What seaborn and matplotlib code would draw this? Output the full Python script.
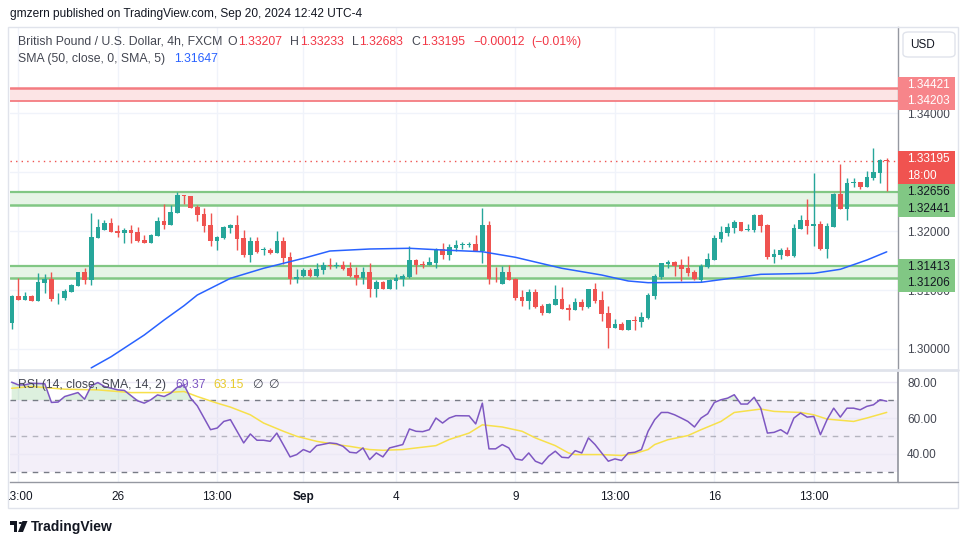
import numpy as np
import matplotlib
matplotlib.use("Agg")
import matplotlib.pyplot as plt
import matplotlib.transforms as mtransforms
from matplotlib.patches import Rectangle, FancyBboxPatch, Polygon, Circle
from matplotlib.lines import Line2D
import seaborn as sns

# GBPUSD 4h candles
opens = [1.30446, 1.30898, 1.30836, 1.30898, 1.30819, 1.31124, 1.31186, 1.30876, 1.30870, 1.30972,
         1.31073, 1.31305, 1.31175, 1.31887, 1.32023, 1.32136, 1.32000, 1.31972, 1.32017, 1.31983,
         1.31847, 1.31802, 1.31921, 1.32170, 1.32107, 1.32311, 1.32605, 1.32593, 1.32407, 1.32288,
         1.32102, 1.31836, 1.31887, 1.32051, 1.32102, 1.31881, 1.31599, 1.31830, 1.31672, 1.31684,
         1.31633, 1.31830, 1.31559, 1.31181, 1.31237, 1.31339, 1.31237, 1.31345, 1.31418, 1.31407,
         1.31418, 1.31373, 1.31254, 1.31209, 1.31305, 1.31023, 1.31136, 1.31023, 1.31158, 1.31192,
         1.31226, 1.31508, 1.31441, 1.31424, 1.31458, 1.31695, 1.31593, 1.31712, 1.31768, 1.31763,
         1.31780, 1.31661, 1.32102, 1.31209, 1.31107, 1.31305, 1.31192, 1.30881, 1.30819, 1.30966,
         1.30729, 1.30616, 1.30751, 1.30847, 1.30695, 1.30667, 1.30797, 1.30717, 1.31017, 1.30830,
         1.30610, 1.30361, 1.30424, 1.30328, 1.30491, 1.30458, 1.30525, 1.30904, 1.31226, 1.31441,
         1.31475, 1.31424, 1.31373, 1.31305, 1.31175, 1.31390, 1.31508, 1.31864, 1.31966, 1.32051,
         1.32153, 1.32017, 1.32017, 1.32271, 1.32102, 1.31559, 1.31593, 1.31678, 1.31576, 1.32034,
         1.32186, 1.32085, 1.32119, 1.31695, 1.32068, 1.32627, 1.32373, 1.32819, 1.32831, 1.32746,
         1.32898, 1.32983, 1.33207]
highs = [1.30915, 1.31209, 1.30966, 1.30915, 1.31288, 1.31271, 1.31305, 1.30949, 1.31017, 1.31102,
         1.31305, 1.31373, 1.32305, 1.32203, 1.32186, 1.32220, 1.32102, 1.32051, 1.32102, 1.32068,
         1.31932, 1.31949, 1.32237, 1.32458, 1.32441, 1.32661, 1.32605, 1.32593, 1.32441, 1.32390,
         1.32305, 1.31915, 1.32085, 1.32119, 1.32271, 1.32017, 1.31898, 1.31898, 1.31734, 1.31717,
         1.32000, 1.31898, 1.31644, 1.31350, 1.31367, 1.31367, 1.31452, 1.31475, 1.31548, 1.31469,
         1.31486, 1.31475, 1.31390, 1.31390, 1.31452, 1.31169, 1.31152, 1.31186, 1.31271, 1.31271,
         1.31746, 1.31525, 1.31491, 1.31559, 1.31712, 1.31797, 1.31780, 1.31847, 1.31814, 1.31814,
         1.31932, 1.32390, 1.32170, 1.31390, 1.31407, 1.31424, 1.31209, 1.31000, 1.31017, 1.31017,
         1.30763, 1.30780, 1.31085, 1.31051, 1.30763, 1.30864, 1.30847, 1.31017, 1.31119, 1.30983,
         1.30729, 1.30508, 1.30458, 1.30491, 1.30559, 1.30627, 1.30949, 1.31271, 1.31458, 1.31508,
         1.31491, 1.31525, 1.31576, 1.31339, 1.31441, 1.31627, 1.31932, 1.32085, 1.32136, 1.32186,
         1.32153, 1.32119, 1.32288, 1.32288, 1.32119, 1.31695, 1.31712, 1.31729, 1.32119, 1.32271,
         1.32542, 1.32983, 1.32170, 1.32136, 1.32644, 1.33136, 1.32898, 1.32898, 1.32831, 1.33017,
         1.33407, 1.33220, 1.33233]
lows = [1.30345, 1.30836, 1.30836, 1.30819, 1.30819, 1.30955, 1.30819, 1.30768, 1.30836, 1.30972,
        1.31073, 1.31107, 1.31090, 1.31887, 1.32023, 1.31989, 1.31904, 1.31802, 1.31802, 1.31819,
        1.31802, 1.31802, 1.31921, 1.32040, 1.32107, 1.32311, 1.32458, 1.32396, 1.32175, 1.31989,
        1.31751, 1.31684, 1.31870, 1.31972, 1.31684, 1.31554, 1.31469, 1.31633, 1.31588, 1.31604,
        1.31633, 1.31435, 1.31102, 1.31124, 1.31215, 1.31215, 1.31226, 1.31271, 1.31362, 1.31378,
        1.31339, 1.31215, 1.31090, 1.31107, 1.30887, 1.30887, 1.31023, 1.31023, 1.31023, 1.31073,
        1.31209, 1.31271, 1.31373, 1.31424, 1.31373, 1.31525, 1.31508, 1.31661, 1.31695, 1.31729,
        1.31661, 1.31458, 1.31107, 1.31141, 1.31107, 1.31175, 1.30836, 1.30734, 1.30684, 1.30700,
        1.30582, 1.30616, 1.30751, 1.30684, 1.30497, 1.30667, 1.30667, 1.30700, 1.30785, 1.30480,
        1.30022, 1.30361, 1.30328, 1.30328, 1.30328, 1.30378, 1.30508, 1.30853, 1.31192, 1.31373,
        1.31237, 1.31152, 1.31237, 1.31175, 1.31136, 1.31373, 1.31508, 1.31814, 1.31915, 1.31966,
        1.32000, 1.32000, 1.31983, 1.31983, 1.31525, 1.31458, 1.31525, 1.31576, 1.31559, 1.32034,
        1.31949, 1.31746, 1.31678, 1.31542, 1.32068, 1.32373, 1.32186, 1.32746, 1.32712, 1.32746,
        1.32864, 1.32814, 1.32683]
closes = [1.30898, 1.30836, 1.30898, 1.30819, 1.31136, 1.31186, 1.30853, 1.30887, 1.30983, 1.31085,
          1.31305, 1.31175, 1.31898, 1.32068, 1.32136, 1.31989, 1.31972, 1.32017, 1.31972, 1.31836,
          1.31802, 1.31932, 1.32170, 1.32107, 1.32322, 1.32610, 1.32593, 1.32396, 1.32277, 1.32090,
          1.31836, 1.31898, 1.32068, 1.32102, 1.31870, 1.31599, 1.31830, 1.31650, 1.31689, 1.31633,
          1.31830, 1.31548, 1.31181, 1.31220, 1.31339, 1.31237, 1.31356, 1.31418, 1.31407, 1.31418,
          1.31362, 1.31243, 1.31209, 1.31305, 1.31023, 1.31136, 1.31023, 1.31169, 1.31203, 1.31237,
          1.31508, 1.31424, 1.31429, 1.31475, 1.31695, 1.31593, 1.31729, 1.31763, 1.31780, 1.31780,
          1.31661, 1.32102, 1.31192, 1.31197, 1.31305, 1.31175, 1.30870, 1.30819, 1.30966, 1.30717,
          1.30616, 1.30763, 1.30847, 1.30684, 1.30667, 1.30797, 1.30717, 1.31017, 1.30819, 1.30599,
          1.30361, 1.30424, 1.30328, 1.30491, 1.30480, 1.30542, 1.30915, 1.31237, 1.31458, 1.31475,
          1.31407, 1.31356, 1.31288, 1.31192, 1.31407, 1.31525, 1.31881, 1.31983, 1.32068, 1.32153,
          1.32000, 1.32034, 1.32271, 1.32085, 1.31559, 1.31610, 1.31678, 1.31576, 1.32051, 1.32186,
          1.32085, 1.32119, 1.31695, 1.32085, 1.32627, 1.32373, 1.32814, 1.32831, 1.32746, 1.32915,
          1.33000, 1.33203, 1.33195]

# SMA(50) line, sampled along the curve
sma_idx = [12, 15, 20, 23, 26, 28, 33, 38, 44, 48, 54, 60, 65, 71, 76, 83, 89, 93, 96, 104,
           113, 121, 125, 129, 132]
sma_vals = [1.29680, 1.29869, 1.30237, 1.30492, 1.30734, 1.30915, 1.31198, 1.31368, 1.31537, 1.31661,
            1.31695, 1.31707, 1.31678, 1.31649, 1.31554, 1.31368, 1.31254, 1.31153, 1.31124, 1.31131,
            1.31266, 1.31283, 1.31351, 1.31508, 1.31647]

# RSI(14) and its SMA
rsi_idx = [0, 1, 2, 3, 5, 6, 7, 8, 10, 11, 12, 13, 14, 16, 17, 19, 20, 21, 22, 23, 24, 25, 26, 27, 28,
           30, 31, 32, 33, 35, 36, 37, 38, 39, 40, 42, 43, 44, 45, 46, 48, 49, 50, 51, 52, 53, 54, 55,
           56, 57, 59, 60, 61, 62, 63, 64, 65, 66, 67, 69, 70, 71, 72, 73, 74, 75, 76, 77, 78, 79, 80,
           81, 82, 83, 84, 85, 86, 87, 88, 89, 90, 91, 92, 93, 94, 95, 96, 97, 98, 99, 100, 101, 102,
           103, 104, 105, 106, 107, 108, 109, 110, 111, 112, 113, 114, 115, 116, 117, 118, 119, 120,
           121, 122, 123, 124, 125, 126, 127, 128, 129, 130, 131, 132]
rsi_vals = [80.0, 78.5, 78.5, 79.4, 79.1, 68.7, 68.9, 72.0, 74.2, 70.5, 77.9, 79.8, 77.6, 75.7, 75.4,
            69.6, 68.3, 70.2, 72.9, 72.0, 73.9, 77.2, 78.5, 71.1, 66.8, 53.5, 54.4, 58.1, 59.1, 46.1,
            51.1, 47.6, 47.6, 47.0, 51.6, 38.3, 39.6, 42.4, 40.9, 44.6, 46.1, 45.7, 44.2, 40.9, 40.5,
            43.3, 36.8, 40.5, 38.3, 43.3, 45.2, 53.9, 52.6, 52.4, 53.5, 60.0, 57.2, 60.0, 61.3, 61.2,
            56.7, 68.3, 42.8, 42.8, 45.2, 43.3, 37.2, 36.5, 40.5, 35.9, 34.4, 38.7, 41.5, 38.1, 37.8,
            41.8, 40.5, 48.9, 45.2, 40.5, 35.9, 37.2, 36.3, 40.5, 40.9, 42.4, 52.6, 59.1, 63.1, 63.1,
            61.8, 60.0, 58.1, 55.0, 60.0, 62.4, 68.7, 70.2, 71.1, 73.0, 67.8, 67.8, 71.6, 65.5, 51.6,
            52.0, 53.5, 51.1, 60.0, 62.8, 60.5, 60.9, 50.7, 59.1, 65.5, 60.5, 65.5, 65.5, 64.6, 66.5,
            67.4, 70.2, 69.37]
rsi_ma_idx = [0, 3, 8, 13, 18, 23, 26, 28, 31, 33, 36, 38, 41, 43, 46, 49, 51, 54, 56, 59, 61, 64,
              66, 69, 71, 74, 77, 79, 82, 84, 85, 89, 92, 94, 96, 97, 99, 102, 104, 107, 109, 113,
              115, 119, 121, 123, 127, 129, 132]
rsi_ma_vals = [76.6, 77.6, 76.1, 75.7, 74.2, 74.2, 74.8, 72.0, 68.3, 66.1, 61.8, 57.2, 52.6, 49.8,
               47.0, 45.2, 44.2, 42.4, 42.0, 42.4, 43.3, 44.6, 48.0, 51.6, 56.2, 55.0, 52.6, 48.9,
               44.6, 40.5, 39.6, 39.6, 39.1, 40.2, 42.4, 45.2, 47.9, 50.2, 53.5, 58.1, 63.1, 65.0,
               63.7, 63.1, 61.8, 59.4, 58.1, 60.0, 63.15]

tick_idx = [1, 16, 31, 44, 58, 76, 91, 106, 121]
tick_labels = ["13:00", "26", "13:00", "Sep", "4", "9", "13:00", "16", "13:00"]
price_ticks = [1.30, 1.31, 1.32, 1.33, 1.34]
price_labels = ["1.30000", "1.31000", "1.32000", "", "1.34000"]  # 1.33 sits under the price tag
rsi_ticks = [40, 60, 80]

red_zone = (1.34203, 1.34421)
green_zones = [(1.32441, 1.32656), (1.31206, 1.31413)]
last_price = 1.33195
sma_last = 1.31647

UP = "#26A69A"
DOWN = "#EF5350"
TXT = "#131722"
GRID = "#F0F3FA"

sns.set_theme(style="white")
plt.rcParams['font.family'] = ['Liberation Sans', 'DejaVu Sans']

W, H = 970, 545
fig = plt.figure(figsize=(W / 100, H / 100), dpi=100)
fig.patch.set_facecolor("white")


def fx(px):
    return px / W


def fy(py):
    return 1 - py / H


ax = fig.add_axes([fx(10), fy(370), (898 - 10) / W, (370 - 27) / H])
ax_r = fig.add_axes([fx(10), fy(482), (898 - 10) / W, (482 - 370) / H], sharex=ax)

n = len(opens)
x = np.arange(n)
o = np.array(opens)
c = np.array(closes)
colors = [UP if cc >= oo else DOWN for oo, cc in zip(o, c)]

ylo, yhi = 1.29644, 1.35458
ax.set_xlim(-0.25, n + 0.7)
ax.set_ylim(ylo, yhi)
dpp = (yhi - ylo) / 343.0  # price per pixel

# grid
for t in tick_idx:
    ax.axvline(t, color=GRID, lw=1, zorder=0)
    ax_r.axvline(t, color=GRID, lw=1, zorder=0)
for p in price_ticks:
    ax.axhline(p, color=GRID, lw=1, zorder=0)

# zones
ax.axhspan(*red_zone, color="#FCE4E5", zorder=1, lw=0)
ax.axhline(red_zone[0], color="#F47C81", lw=1.3, zorder=1.2)
ax.axhline(red_zone[1], color="#F47C81", lw=1.8, zorder=1.2)
for lo, hi in green_zones:
    ax.axhspan(lo, hi, color="#E6F4E6", zorder=1, lw=0)
    ax.axhline(lo, color="#81C784", lw=1.8, zorder=1.2)
    ax.axhline(hi, color="#81C784", lw=1.6, zorder=1.2)

ax.axhline(last_price, color=DOWN, lw=1, ls=(0, (1, 3)), zorder=1.5)

# candles
ax.vlines(x, lows, highs, colors=colors, lw=1, zorder=3)
body_lo = np.minimum(o, c)
body_h = np.maximum(np.abs(c - o), 0.00012)
ax.bar(x, body_h, bottom=body_lo, width=0.7, color=colors, lw=0, zorder=3)

sns.lineplot(x=sma_idx, y=sma_vals, ax=ax, color="#2962FF", lw=1.1, zorder=4)

# price axis
ax.yaxis.tick_right()
ax.set_yticks(price_ticks)
ax.set_yticklabels(price_labels)
ax.tick_params(axis="y", length=0, pad=6.5, labelsize=8.5, labelcolor="#434651")
ax.tick_params(axis="x", length=0, labelbottom=False)
ax.set_xlabel("")
ax.set_ylabel("")
for s in ["top", "left", "bottom"]:
    ax.spines[s].set_visible(False)
ax.spines["right"].set_color("#9598A1")
ax.spines["right"].set_linewidth(1)

# tags on price axis
trans = mtransforms.blended_transform_factory(ax.transAxes, ax.transData)
tag_w = 57 / 888


def tag(center, labels, face, tcol):
    h = 16.5 * len(labels) * dpp
    ax.add_patch(Rectangle((1.0, center - h / 2), tag_w, h, transform=trans, facecolor=face,
                           edgecolor="none", clip_on=False, zorder=6))
    for k, lab in enumerate(labels):
        yy = center + h / 2 - (k + 0.5) * 16.5 * dpp
        ax.text(1.0 + 9 / 888, yy, lab, transform=trans, ha="left", va="center",
                fontsize=8.5, color=tcol, zorder=7, clip_on=False)


tag(sum(red_zone) / 2 + 1.5 * dpp, ["1.34421", "1.34203"], "#F7858A", "white")
tag(last_price - 7 * dpp, ["1.33195", "18:00"], "#F05350", "white")
tag(sum(green_zones[0]) / 2 - 2 * dpp, ["1.32656", "1.32441"], "#81C784", TXT)
tag(sum(green_zones[1]) / 2 - 3.3 * dpp, ["1.31413", "1.31206"], "#81C784", TXT)

# RSI pane
ax_r.set_ylim(24.3, 86.8)
ax_r.axhspan(30, 70, color="#7E57C2", alpha=0.09, lw=0, zorder=0.5)
for p in rsi_ticks:
    ax_r.axhline(p, color="#ECE9F5", lw=1, zorder=0.6)
ax_r.axhline(70, color="#787B86", lw=1, ls=(0, (4, 4)), zorder=1)
ax_r.axhline(50, color="#787B86", lw=1, ls=(0, (4, 4)), alpha=0.5, zorder=1)
ax_r.axhline(30, color="#787B86", lw=1, ls=(0, (4, 4)), zorder=1)
rv = np.array(rsi_vals)
ax_r.fill_between(rsi_idx, rv, 70, where=rv > 70, interpolate=True, color="#66BB6A",
                  alpha=0.22, lw=0, zorder=1.5)
sns.lineplot(x=rsi_ma_idx, y=rsi_ma_vals, ax=ax_r, color="#F7E04B", lw=1.1, zorder=2)
sns.lineplot(x=rsi_idx, y=rsi_vals, ax=ax_r, color="#7E57C2", lw=1.1, zorder=3)

ax_r.yaxis.tick_right()
ax_r.set_yticks(rsi_ticks)
ax_r.set_yticklabels([f"{p:.2f}" for p in rsi_ticks])
ax_r.tick_params(axis="y", length=0, pad=6.5, labelsize=8.5, labelcolor="#434651")
ax_r.set_xticks(tick_idx)
ax_r.set_xticklabels(tick_labels)
ax_r.tick_params(axis="x", length=0, pad=6.5, labelsize=8.5, labelcolor=TXT)
clip = mtransforms.Bbox.from_extents(8, H - 512, 958, H - 482)
for k, lab in enumerate(ax_r.get_xticklabels()):
    if lab.get_text() == "Sep":
        lab.set_fontweight("bold")
    if k == 0:
        # first label is cut by the left edge of the chart
        lab.set_clip_on(True)
        lab.set_clip_box(clip)
ax_r.set_xlabel("")
ax_r.set_ylabel("")
for s in ["top", "left"]:
    ax_r.spines[s].set_visible(False)
ax_r.spines["right"].set_color("#9598A1")
ax_r.spines["bottom"].set_color("#9598A1")
ax_r.spines["bottom"].set_linewidth(1)

# frame and separators
fig.add_artist(Rectangle((fx(8), fy(508)), (958 - 8) / W, (508 - 27) / H, transform=fig.transFigure,
                         fill=False, edgecolor="#E0E3EB", lw=1))
fig.add_artist(Line2D([fx(10), fx(958)], [fy(370), fy(370)], color="#E0E3EB", lw=2))
fig.add_artist(Line2D([fx(898), fx(958)], [fy(482), fy(482)], color="#9598A1", lw=1))

# USD box
fig.add_artist(FancyBboxPatch((fx(903), fy(57)), 52 / W, 25 / H, transform=fig.transFigure,
                              boxstyle="round,pad=0,rounding_size=0.006", facecolor="white",
                              edgecolor="#E0E3EB", lw=1))
fig.text(fx(910), fy(44.5), "USD", fontsize=8.5, color=TXT, va="center", ha="left")

# header
fig.text(fx(10), fy(14), "gmzern published on TradingView.com, Sep 20, 2024 12:42 UTC-4",
         fontsize=8.6, color=TXT, va="center", ha="left")

renderer = fig.canvas.get_renderer()


def row(x0, y, pieces, size=8.5):
    xp = x0
    for txt, col, gap in pieces:
        t = fig.text(fx(xp), fy(y), txt, fontsize=size, color=col, va="center", ha="left")
        bb = t.get_window_extent(renderer)
        xp += bb.width + gap


GRAY = "#434651"
RED = "#F23645"
row(18, 42, [("British Pound / U.S. Dollar, 4h, FXCM", GRAY, 5),
             ("O", GRAY, 1), ("1.33207", RED, 8),
             ("H", GRAY, 1), ("1.33233", RED, 8),
             ("L", GRAY, 1), ("1.32683", RED, 8),
             ("C", GRAY, 1), ("1.33195", RED, 8),
             ("\u22120.00012", RED, 7), ("(\u22120.01%)", RED, 0)], size=8.8)
row(18, 59, [("SMA (50, close, 0, SMA, 5)", GRAY, 9), (f"{sma_last:.5f}", "#2962FF", 0)], size=8.8)
row(18, 385, [("RSI (14, close, SMA, 14, 2)", GRAY, 9), ("69.37", "#7E57C2", 8),
              ("63.15", "#E8CB2E", 8), ("\u2205", GRAY, 6), ("\u2205", GRAY, 0)], size=8.8)

# TradingView logo
fig.add_artist(Rectangle((fx(10), fy(525)), 7 / W, 4 / H, transform=fig.transFigure,
                         facecolor=TXT, lw=0))
fig.add_artist(Rectangle((fx(13.5), fy(532)), 3.5 / W, 8 / H, transform=fig.transFigure,
                         facecolor=TXT, lw=0))
fig.add_artist(Circle((fx(20.5), fy(523)), 1.8 / W, transform=fig.transFigure, facecolor=TXT, lw=0))
fig.add_artist(Polygon([[fx(22.5), fy(521)], [fx(27.5), fy(521)], [fx(23), fy(532)], [fx(18), fy(532)]],
                       closed=True, transform=fig.transFigure, facecolor=TXT, lw=0))
fig.text(fx(31), fy(527), "TradingView", fontsize=10, color=TXT, va="center", ha="left",
         fontweight="bold")

fig.savefig("out.png", dpi=100, facecolor="white")
